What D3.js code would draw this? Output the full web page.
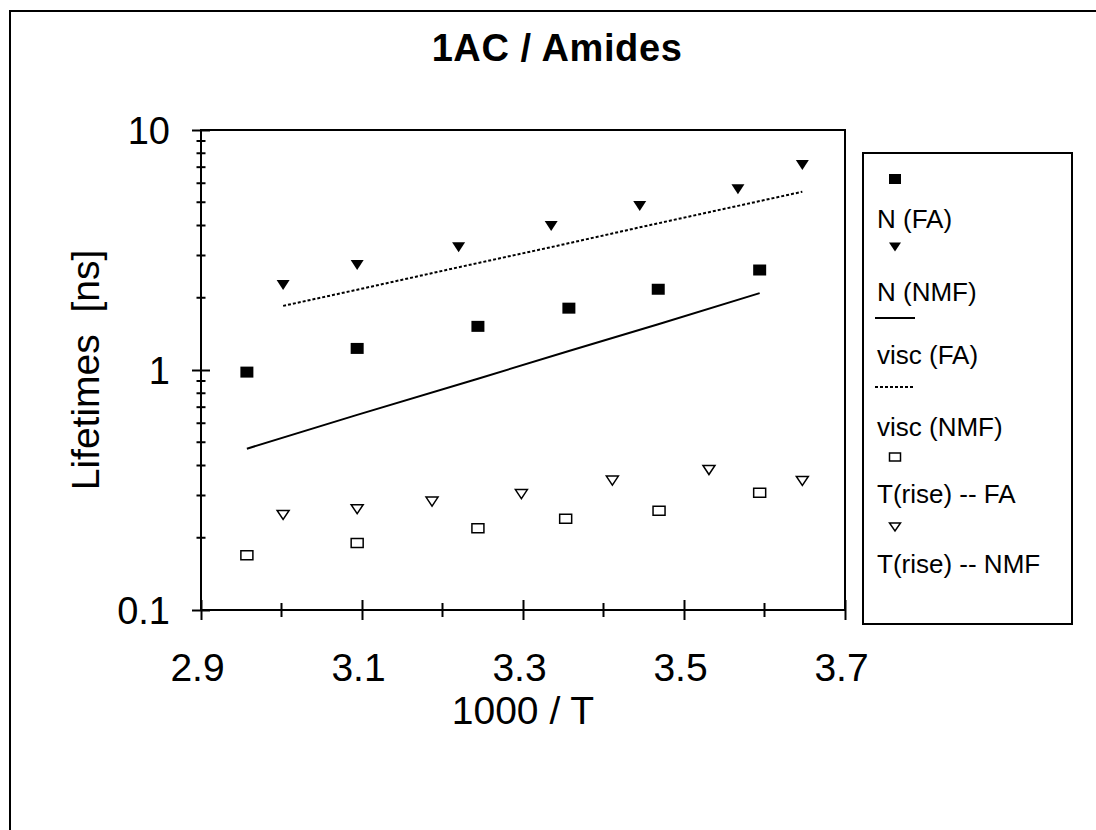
<!DOCTYPE html>
<html>
<head>
<meta charset="utf-8">
<script src="https://cdn.jsdelivr.net/npm/d3@7"></script>
<style>
  body { margin: 0; background: #fff; }
  text { font-family: "Liberation Sans", Arial, sans-serif; fill: #000; }
</style>
</head>
<body>
<svg id="chart" width="1096" height="830"></svg>
<script>
// values (x = 1000/T, y = lifetime in ns)
const nFaX = [2.957, 3.094, 3.244, 3.357, 3.468, 3.594];
const nFaY = [0.98, 1.23, 1.52, 1.81, 2.17, 2.61];
const nNmfX = [3.002, 3.094, 3.22, 3.335, 3.445, 3.567, 3.647];
const nNmfY = [2.26, 2.74, 3.25, 3.98, 4.82, 5.67, 7.14];
const viscFaY = [0.47, 0.65, 0.92, 1.2, 1.55, 2.09];
const viscNmfY = [1.85, 2.16, 2.68, 3.25, 3.93, 4.83, 5.53];
const riseFaX = [2.957, 3.094, 3.244, 3.353, 3.469, 3.594];
const riseFaY = [0.169, 0.19, 0.219, 0.24, 0.259, 0.308];
const riseNmfX = [3.002, 3.094, 3.187, 3.298, 3.411, 3.531, 3.647];
const riseNmfY = [0.249, 0.263, 0.283, 0.304, 0.346, 0.383, 0.345];

const xMajor = [2.9, 3.1, 3.3, 3.5, 3.7];
const xMinor = [3.0, 3.2, 3.4, 3.6];
const yMajor = [0.1, 1, 10];
const yMajorLabels = ["0.1", "1", "10"];
const legendLabels = ["N (FA)", "N (NMF)", "visc (FA)", "visc (NMF)", "T(rise) -- FA", "T(rise) -- NMF"];

const margin = { top: 130, right: 251, bottom: 220, left: 201 };
const width = 1096, height = 830;

const svg = d3.select("#chart");

// outer frame (only top/left edges show in the picture)
svg.append("rect")
  .attr("x", 10).attr("y", 11)
  .attr("width", 1200).attr("height", 1000)
  .attr("fill", "none").attr("stroke", "#000").attr("stroke-width", 2);

const x = d3.scaleLinear().domain([2.9, 3.7]).range([margin.left, width - margin.right]);
const y = d3.scaleLog().domain([0.1, 10]).range([height - margin.bottom, margin.top]);

// plot frame
svg.append("rect")
  .attr("x", x(2.9)).attr("y", y(10))
  .attr("width", x(3.7) - x(2.9)).attr("height", y(0.1) - y(10))
  .attr("fill", "none").attr("stroke", "#000").attr("stroke-width", 2);

// x axis
const xAxis = svg.append("g")
  .attr("transform", `translate(0,${y(0.1)})`)
  .call(d3.axisBottom(x).tickValues(xMajor).tickSize(0).tickFormat(d3.format(".1f")));
xAxis.select(".domain").remove();
xAxis.selectAll(".tick line").attr("y1", -10).attr("y2", 10).attr("stroke-width", 2);
xAxis.selectAll(".tick text")
  .attr("font-size", 39).attr("font-family", "Liberation Sans, Arial, sans-serif")
  .attr("dy", 0).attr("y", 71).attr("dx", -4);
svg.append("g").selectAll("line").data(xMinor).join("line")
  .attr("x1", (d) => x(d)).attr("x2", (d) => x(d))
  .attr("y1", y(0.1) - 7).attr("y2", y(0.1) + 7)
  .attr("stroke", "#000").attr("stroke-width", 2);

// y axis
const yMinor = [];
[0.1, 1].forEach((b) => d3.range(2, 10).forEach((k) => yMinor.push(b * k)));
const yAxis = svg.append("g")
  .attr("transform", `translate(${x(2.9)},0)`)
  .call(d3.axisLeft(y).tickValues(yMajor).tickSize(0).tickFormat((d, i) => yMajorLabels[i]));
yAxis.select(".domain").remove();
yAxis.selectAll(".tick line").attr("x1", -9).attr("x2", 9).attr("stroke-width", 2);
yAxis.selectAll(".tick text")
  .attr("font-size", 38).attr("font-family", "Liberation Sans, Arial, sans-serif")
  .attr("x", -31).attr("dy", "0.35em");
svg.append("g").selectAll("line").data(yMinor).join("line")
  .attr("x1", x(2.9) - 4.5).attr("x2", x(2.9) + 4.5)
  .attr("y1", (d) => y(d)).attr("y2", (d) => y(d))
  .attr("stroke", "#000").attr("stroke-width", 2);

// titles
svg.append("text").attr("x", 557).attr("y", 61)
  .attr("text-anchor", "middle").attr("font-size", 38).attr("font-weight", "bold")
  .attr("letter-spacing", 0.6)
  .text("1AC / Amides");
svg.append("text").attr("x", 523).attr("y", 724)
  .attr("text-anchor", "middle").attr("font-size", 39)
  .text("1000 / T");
svg.append("text")
  .attr("transform", `translate(99,${y(1)}) rotate(-90)`)
  .attr("text-anchor", "middle").attr("font-size", 39)
  .attr("xml:space", "preserve")
  .text("Lifetimes  [ns]");

// markers
const sq = (w, h) => `M${-w / 2},${-h / 2}h${w}v${h}h${-w}Z`;
const tri = (w, h) => `M${-w / 2},${-h / 2}h${w}L0,${h / 2}Z`;

const lineGen = d3.line().x((d) => x(d[0])).y((d) => y(d[1]));

svg.append("path")
  .attr("d", lineGen(d3.zip(nFaX, viscFaY)))
  .attr("fill", "none").attr("stroke", "#000").attr("stroke-width", 2);
svg.append("path")
  .attr("d", lineGen(d3.zip(nNmfX, viscNmfY)))
  .attr("fill", "none").attr("stroke", "#000").attr("stroke-width", 2)
  .attr("stroke-dasharray", "3,2");

function markers(xs, ys, d, fill) {
  svg.append("g").selectAll("path").data(d3.zip(xs, ys)).join("path")
    .attr("transform", (p) => `translate(${x(p[0])},${y(p[1])})`)
    .attr("d", d)
    .attr("fill", fill ? "#000" : "#fff")
    .attr("stroke", "#000").attr("stroke-width", fill ? 0 : 1.5);
}
markers(nFaX, nFaY, sq(13, 11), true);
markers(nNmfX, nNmfY, tri(13, 10), true);
markers(riseFaX, riseFaY, sq(12, 9), false);
markers(riseNmfX, riseNmfY, tri(12, 9), false);

// legend
const lg = svg.append("g");
lg.append("rect").attr("x", 863).attr("y", 153).attr("width", 209).attr("height", 471)
  .attr("fill", "#fff").attr("stroke", "#000").attr("stroke-width", 2);
const labelY = [228, 301, 364, 436, 503, 573];
lg.selectAll("text").data(legendLabels).join("text")
  .attr("x", 877).attr("y", (d, i) => labelY[i])
  .attr("font-size", 26).text((d) => d);
lg.append("path").attr("transform", "translate(895,179)").attr("d", sq(12, 10)).attr("fill", "#000");
lg.append("path").attr("transform", "translate(895,247)").attr("d", tri(12, 9)).attr("fill", "#000");
lg.append("line").attr("x1", 875).attr("x2", 915).attr("y1", 318).attr("y2", 318)
  .attr("stroke", "#000").attr("stroke-width", 2);
lg.append("line").attr("x1", 875).attr("x2", 914).attr("y1", 387).attr("y2", 387)
  .attr("stroke", "#000").attr("stroke-width", 2).attr("stroke-dasharray", "3,2");
lg.append("path").attr("transform", "translate(895,457)").attr("d", sq(11, 8))
  .attr("fill", "#fff").attr("stroke", "#000").attr("stroke-width", 1.5);
lg.append("path").attr("transform", "translate(895,527)").attr("d", tri(11, 8))
  .attr("fill", "#fff").attr("stroke", "#000").attr("stroke-width", 1.5);
</script>
</body>
</html>
